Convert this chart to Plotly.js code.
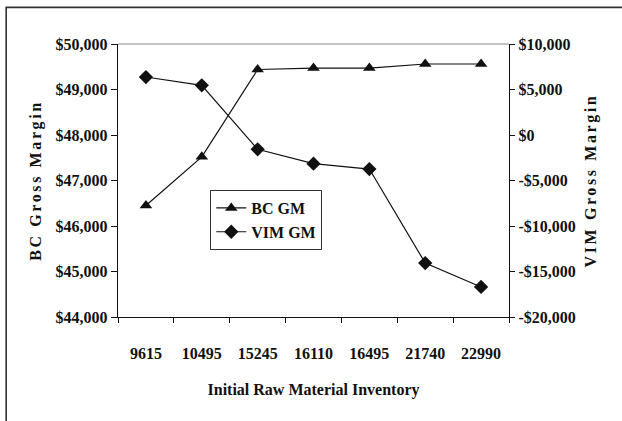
<!DOCTYPE html>
<html>
<head>
<meta charset="utf-8">
<script src="https://cdn.plot.ly/plotly-3.0.1.min.js"></script>
<style>
html,body{margin:0;padding:0;background:#fff;}
#chart{width:622px;height:421px;}
#chart .g-ytitle text, #chart .g-y2title text{letter-spacing:2.6px;}
</style>
</head>
<body>
<div id="chart"></div>
<script>
// Data
var categories = ["9615", "10495", "15245", "16110", "16495", "21740", "22990"];
var bcGM = [46450, 47520, 49440, 49470, 49470, 49560, 49560];
var vimGM = [6370, 5460, -1570, -3150, -3740, -14070, -16700];
var leftTickVals = [44000, 45000, 46000, 47000, 48000, 49000, 50000];
var leftTickText = ["$44,000", "$45,000", "$46,000", "$47,000", "$48,000", "$49,000", "$50,000"];
var rightTickVals = [-20000, -15000, -10000, -5000, 0, 5000, 10000];
var rightTickText = ["-$20,000", "-$15,000", "-$10,000", "-$5,000", "$0", "$5,000", "$10,000"];

var FONT = "Liberation Serif, Times New Roman, serif";
var INK = "#111";

var traces = [
  {
    x: categories, y: bcGM, name: "BC GM", type: "scatter", mode: "lines+markers",
    line: {color: INK, width: 1.2},
    marker: {symbol: "triangle-up", size: 11, color: INK},
    xaxis: "x", yaxis: "y"
  },
  {
    x: categories, y: vimGM, name: "VIM GM", type: "scatter", mode: "lines+markers",
    line: {color: INK, width: 1.2},
    marker: {symbol: "diamond", size: 11, color: INK},
    xaxis: "x", yaxis: "y2"
  }
];

var layout = {
  width: 622, height: 421,
  margin: {l: 117.5, r: 113, t: 44, b: 104, pad: 0},
  paper_bgcolor: "#fff", plot_bgcolor: "#fff",
  font: {family: FONT, size: 16, color: INK, weight: "bold"},
  showlegend: true,
  legend: {
    x: 0.236, y: 0.465, xanchor: "left", yanchor: "top",
    bgcolor: "#fff", bordercolor: "#333", borderwidth: 1,
    font: {family: FONT, size: 16, color: INK, weight: "bold"},
    tracegroupgap: 4, itemwidth: 30
  },
  xaxis: {
    type: "category", categoryorder: "array", categoryarray: categories,
    range: [-0.5, 6.5],
    tickson: "boundaries", ticks: "outside", ticklen: 5, tickwidth: 1, tickcolor: INK,
    showline: true, linecolor: INK, linewidth: 1.2,
    showgrid: false, zeroline: false,
    ticklabelstandoff: 22,
    tickfont: {family: FONT, size: 16, color: INK, weight: "bold"},
    title: {text: "Initial Raw Material Inventory", standoff: 22,
            font: {family: FONT, size: 16, color: INK, weight: "bold"}},
    fixedrange: true
  },
  yaxis: {
    range: [44000, 50000], tickvals: leftTickVals, ticktext: leftTickText,
    ticks: "outside", ticklen: 6, tickcolor: INK,
    showline: true, linecolor: INK, linewidth: 1.2,
    showgrid: false, zeroline: false,
    tickfont: {family: FONT, size: 16, color: INK, weight: "bold"},
    title: {text: "BC Gross Margin", standoff: 10,
            font: {family: FONT, size: 16, color: INK, weight: "bold"}},
    fixedrange: true
  },
  yaxis2: {
    overlaying: "y", side: "right", anchor: "x",
    range: [-20000, 10000], tickvals: rightTickVals, ticktext: rightTickText,
    ticks: "outside", ticklen: 5, tickcolor: INK,
    showline: true, linecolor: INK, linewidth: 1.2,
    showgrid: false, zeroline: false,
    tickfont: {family: FONT, size: 16, color: INK, weight: "bold"},
    title: {text: "VIM Gross Margin", standoff: 10,
            font: {family: FONT, size: 16, color: INK, weight: "bold"}},
    fixedrange: true
  },
  shapes: [
    {type: "line", xref: "paper", yref: "paper", x0: 0, x1: 1, y0: 1, y1: 1,
     line: {color: "#888", width: 1.2}},
    {type: "rect", xref: "paper", yref: "paper",
     x0: -0.286, x1: 1.31, y0: -0.42, y1: 1.134,
     line: {color: "#333", width: 1.6}, fillcolor: "rgba(0,0,0,0)", layer: "below"}
  ]
};

Plotly.newPlot("chart", traces, layout, {staticPlot: true, displayModeBar: false});
</script>
</body>
</html>
